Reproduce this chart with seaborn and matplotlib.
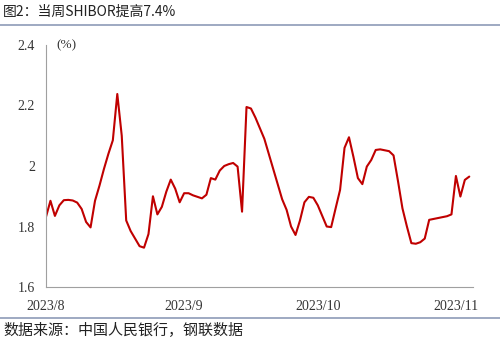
import matplotlib
matplotlib.use("Agg")
import matplotlib.pyplot as plt
import seaborn as sns
import pandas as pd
from matplotlib.lines import Line2D

title_text = "图2：当周SHIBOR提高7.4%"
source_text = "数据来源：中国人民银行，钢联数据"
unit_text = "(%)"

start_date = "2023-08-01"
values = [
    # Aug
    1.832, 1.885, 1.835, 1.870, 1.887, 1.888, 1.886, 1.879, 1.858, 1.815,
    1.797, 1.885, 1.935, 1.990, 2.040, 2.085, 2.238, 2.100, 1.820, 1.785,
    1.760, 1.735, 1.730, 1.775, 1.900, 1.840, 1.865, 1.915, 1.955, 1.925,
    1.880,
    # Sep
    1.910, 1.910, 1.903, 1.898, 1.893, 1.905, 1.960, 1.955, 1.985, 2.000,
    2.006, 2.010, 1.998, 1.849, 2.195, 2.190, 2.160, 2.125, 2.090, 2.040,
    1.990, 1.940, 1.890, 1.855, 1.800, 1.772, 1.820, 1.880, 1.898, 1.895,
    # Oct
    1.870, 1.835, 1.800, 1.798, 1.860, 1.921, 2.060, 2.095, 2.030, 1.960,
    1.940, 1.998, 2.020, 2.053, 2.055, 2.052, 2.049, 2.035, 1.950, 1.860,
    1.800, 1.745, 1.743, 1.748, 1.760, 1.822, 1.825, 1.828, 1.831, 1.834,
    1.840,
    # Nov
    1.967, 1.899, 1.954, 1.965,
]
dates = pd.date_range(start_date, periods=len(values), freq="D")
df = pd.DataFrame({"date": dates, "rate": values})

tick_dates = pd.to_datetime(["2023-08-01", "2023-09-01", "2023-10-01", "2023-11-01"])
tick_labels = ["2023/8", "2023/9", "2023/10", "2023/11"]
y_ticks = [1.6, 1.8, 2.0, 2.2, 2.4]
y_labels = ["1.6", "1.8", "2", "2.2", "2.4"]

sns.set_style("white")
plt.rcParams["font.family"] = ["Noto Sans CJK SC", "DejaVu Sans"]

fig = plt.figure(figsize=(5.0, 3.46), dpi=100)
ax = fig.add_axes([0.092, 0.1705, 0.854, 0.6995])

sns.lineplot(data=df, x="date", y="rate", ax=ax, color="#C00000", linewidth=1.5)

ax.set_xlim(pd.Timestamp("2023-08-01"), pd.Timestamp("2023-11-04 20:00"))
ax.set_ylim(1.6, 2.4)
ax.set_xticks(tick_dates)
ax.set_xticklabels(tick_labels, family="Liberation Serif", fontsize=10, color="#333333")
ax.set_yticks(y_ticks)
ax.set_yticklabels(y_labels, family="Liberation Serif", fontsize=10, color="#333333")
ax.set_xlabel("")
ax.set_ylabel("")
ax.tick_params(axis="both", direction="in", length=5, width=0.8, color="#A0A0A0")
ax.tick_params(axis="x", pad=9)
ax.tick_params(axis="y", pad=8)
for s in ["top", "right"]:
    ax.spines[s].set_visible(False)
for s in ["left", "bottom"]:
    ax.spines[s].set_color("#A0A0A0")
    ax.spines[s].set_linewidth(0.8)

ax.text(0.024, 1.0, unit_text, transform=ax.transAxes, family="Liberation Serif",
        fontsize=9.5, color="#333333", va="center", ha="left")

fig.text(0.006, 0.965, title_text, fontsize=10, color="#222222", va="center", ha="left")
fig.add_artist(Line2D([0, 1], [0.928, 0.928], transform=fig.transFigure, color="#8E9BB8", linewidth=1.2))
fig.add_artist(Line2D([0, 1], [0.081, 0.081], transform=fig.transFigure, color="#8E9BB8", linewidth=1.2))
fig.text(0.006, 0.048, source_text, fontsize=10.8, color="#222222", va="center", ha="left")

fig.savefig("out.png", dpi=100)
